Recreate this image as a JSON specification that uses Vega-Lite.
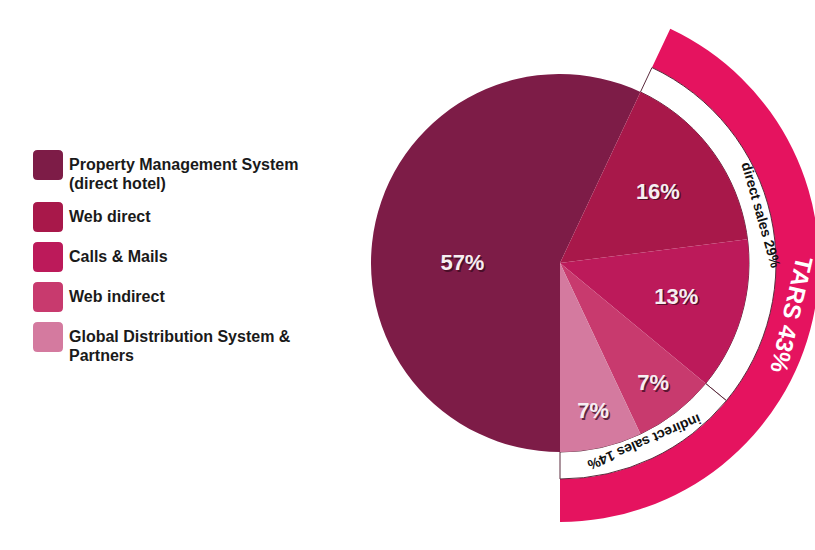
{
  "$schema": "https://vega.github.io/schema/vega-lite/v6.json",
  "width": 510,
  "height": 526,
  "autosize": "none",
  "padding": {"left": 305, "top": 0, "right": 0, "bottom": 24},
  "background": "white",
  "config": {"view": {"stroke": null}, "font": "Liberation Sans"},
  "datasets": {
    "slices": [
      {"channel": "Property Management System|(direct hotel)", "share": 57, "ord": 1},
      {"channel": "Web direct", "share": 16, "ord": 2},
      {"channel": "Calls & Mails", "share": 13, "ord": 3},
      {"channel": "Web indirect", "share": 7, "ord": 4},
      {"channel": "Global Distribution System &|Partners", "share": 7, "ord": 5}
    ],
    "ring": [
      {"segment": "direct sales 29%", "start": 57, "end": 86},
      {"segment": "indirect sales 14%", "start": 86, "end": 100}
    ],
    "tars": [
      {"segment": "TARS 43%", "start": 57, "end": 100}
    ]
  },
  "layer": [
    {
      "data": {"name": "tars"},
      "mark": {"type": "arc", "innerRadius": 216, "outerRadius": 259, "fill": "#e5135f"},
      "encoding": {
        "theta": {"field": "start", "type": "quantitative", "scale": {"domain": [0, 100], "range": [3.14159265, 9.42477796]}},
        "theta2": {"field": "end"}
      }
    },
    {
      "data": {"name": "ring"},
      "mark": {"type": "arc", "innerRadius": 189, "outerRadius": 216, "fill": "white", "stroke": "#5a2a3c", "strokeWidth": 1},
      "encoding": {
        "theta": {"field": "start", "type": "quantitative"},
        "theta2": {"field": "end"}
      }
    },
    {
      "data": {"name": "slices"},
      "mark": {"type": "arc", "outerRadius": 189},
      "encoding": {
        "theta": {"field": "share", "type": "quantitative", "stack": true},
        "order": {"field": "ord", "type": "quantitative"},
        "color": {
          "field": "channel",
          "type": "nominal",
          "sort": {"field": "ord"},
          "scale": {
            "domain": ["Property Management System|(direct hotel)", "Web direct", "Calls & Mails", "Web indirect", "Global Distribution System &|Partners"],
            "range": ["#7d1c47", "#a8184a", "#bc1a5a", "#c83a6e", "#d47a9f"]
          },
          "legend": {
            "title": null,
            "orient": "none",
            "legendX": -272,
            "legendY": 150,
            "direction": "vertical",
            "symbolType": "M-1,-0.7 Q-1,-1 -0.7,-1 L0.7,-1 Q1,-1 1,-0.7 L1,0.7 Q1,1 0.7,1 L-0.7,1 Q-1,1 -1,0.7 Z",
            "symbolSize": 900,
            "symbolStrokeWidth": 0,
            "symbolOpacity": 1,
            "rowPadding": 10,
            "labelFont": "Liberation Sans",
            "labelFontWeight": "bold",
            "labelFontSize": 16,
            "labelColor": "#1a1a1a",
            "labelOffset": 6,
            "labelLimit": 320,
            "labelExpr": "split(datum.label, '|')",
            "encode": {"labels": {"update": {"lineHeight": {"value": 19}}}}
          }
        }
      }
    },
    {
      "data": {"name": "slices"},
      "transform": [
        {"stack": "share", "groupby": [], "sort": [{"field": "ord"}], "as": ["s0", "s1"]},
        {"calculate": "(datum.s0 + datum.s1) / 2", "as": "mid"},
        {"calculate": "datum.share + '%'", "as": "lbl"},
        {"filter": "datum.share > 50"}
      ],
      "layer": [
        {"mark": {"type": "text", "fontSize": 22, "fontWeight": "bold", "fill": "#3a0a1e", "opacity": 0.75, "radius": 100, "dx": 1.5, "dy": 23.5}},
        {"mark": {"type": "text", "fontSize": 22, "fontWeight": "bold", "fill": "#f6eef2", "radius": 100, "dx": 0, "dy": 22}}
      ],
      "encoding": {
        "theta": {"field": "mid", "type": "quantitative"},
        "text": {"field": "lbl", "type": "nominal"}
      }
    },
    {
      "data": {"name": "slices"},
      "transform": [
        {"stack": "share", "groupby": [], "sort": [{"field": "ord"}], "as": ["s0", "s1"]},
        {"calculate": "(datum.s0 + datum.s1) / 2", "as": "mid"},
        {"calculate": "datum.share + '%'", "as": "lbl"},
        {"filter": "datum.share >= 10 && datum.share <= 50"}
      ],
      "layer": [
        {"mark": {"type": "text", "fontSize": 22, "fontWeight": "bold", "fill": "#3a0a1e", "opacity": 0.75, "radius": 121, "dx": 1.5, "dy": 1.5}},
        {"mark": {"type": "text", "fontSize": 22, "fontWeight": "bold", "fill": "#f6eef2", "radius": 121}}
      ],
      "encoding": {
        "theta": {"field": "mid", "type": "quantitative"},
        "text": {"field": "lbl", "type": "nominal"}
      }
    },
    {
      "data": {"name": "slices"},
      "transform": [
        {"stack": "share", "groupby": [], "sort": [{"field": "ord"}], "as": ["s0", "s1"]},
        {"calculate": "(datum.s0 + datum.s1) / 2", "as": "mid"},
        {"calculate": "datum.share + '%'", "as": "lbl"},
        {"filter": "datum.share < 10"}
      ],
      "layer": [
        {"mark": {"type": "text", "fontSize": 22, "fontWeight": "bold", "fill": "#3a0a1e", "opacity": 0.75, "radius": 152, "dx": 1.5, "dy": 1.5}},
        {"mark": {"type": "text", "fontSize": 22, "fontWeight": "bold", "fill": "#f6eef2", "radius": 152}}
      ],
      "encoding": {
        "theta": {"field": "mid", "type": "quantitative"},
        "text": {"field": "lbl", "type": "nominal"}
      }
    },
    {
      "data": {"name": "ring"},
      "transform": [
        {"calculate": "(datum.start + datum.end) / 2", "as": "mid"},
        {"filter": "datum.start < 60"}
      ],
      "mark": {"type": "text", "fontSize": 14, "fontWeight": "bold", "fill": "#111111", "angle": 74, "radius": 197, "dx": -2.5, "dy": -9},
      "encoding": {
        "theta": {"field": "mid", "type": "quantitative"},
        "text": {"field": "segment", "type": "nominal"}
      }
    },
    {
      "data": {"name": "ring"},
      "transform": [
        {"calculate": "(datum.start + datum.end) / 2", "as": "mid"},
        {"filter": "datum.start > 60"}
      ],
      "mark": {"type": "text", "fontSize": 14, "fontWeight": "bold", "fill": "#111111", "angle": 157, "radius": 197},
      "encoding": {
        "theta": {"field": "mid", "type": "quantitative"},
        "text": {"field": "segment", "type": "nominal"}
      }
    },
    {
      "data": {"name": "tars"},
      "transform": [
        {"calculate": "(datum.start + datum.end) / 2", "as": "mid"}
      ],
      "mark": {"type": "text", "fontSize": 24, "fontWeight": "bold", "fill": "white", "angle": 103, "radius": 236},
      "encoding": {
        "theta": {"field": "mid", "type": "quantitative"},
        "text": {"field": "segment", "type": "nominal"}
      }
    }
  ]
}
